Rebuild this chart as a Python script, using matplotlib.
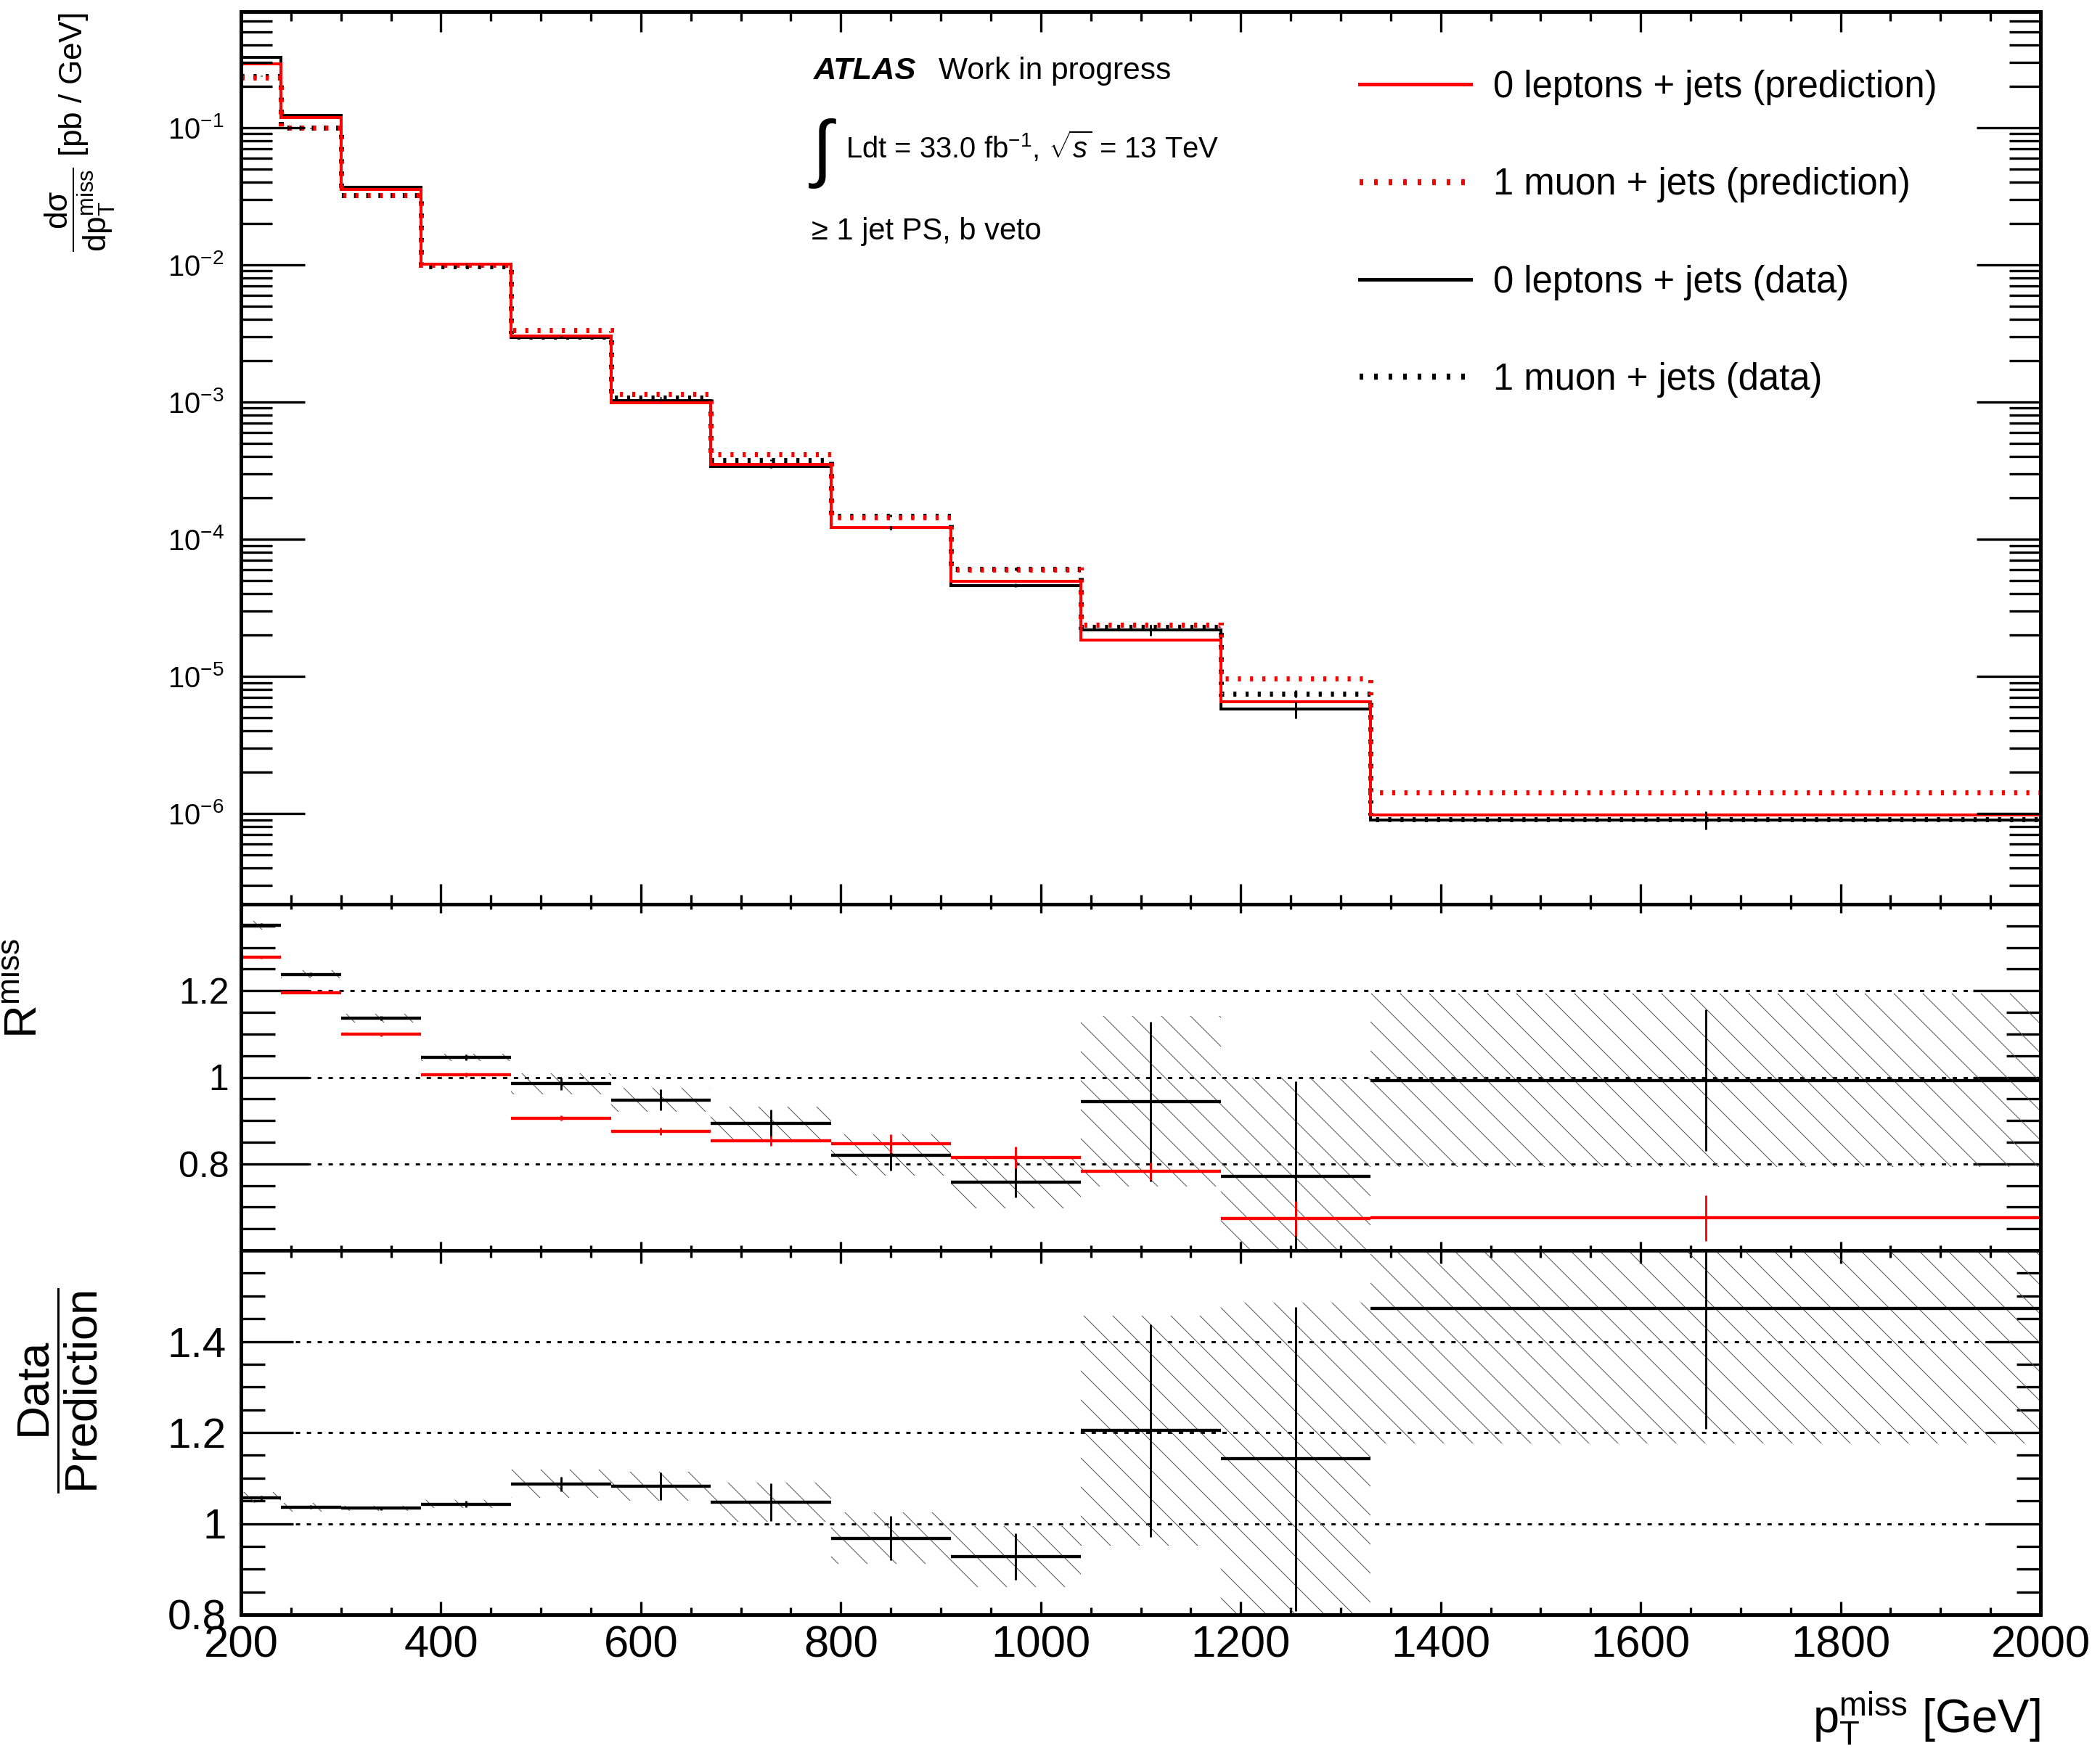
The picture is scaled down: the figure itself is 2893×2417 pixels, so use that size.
import matplotlib
matplotlib.use('Agg')
import matplotlib.pyplot as plt
import numpy as np
from matplotlib.lines import Line2D
from matplotlib.ticker import MultipleLocator, FixedLocator, FuncFormatter, LogLocator, NullFormatter

plt.rcParams['font.family'] = ['Liberation Sans', 'DejaVu Sans']
plt.rcParams['mathtext.fontset'] = 'custom'
plt.rcParams['mathtext.rm'] = 'Liberation Sans'
plt.rcParams['mathtext.it'] = 'Liberation Sans:italic'
plt.rcParams['mathtext.bf'] = 'Liberation Sans:bold'
plt.rcParams['mathtext.sf'] = 'Liberation Sans'
plt.rcParams['hatch.linewidth'] = 0.6
plt.rcParams['hatch.color'] = '#505050'

# бины по p_T^miss [GeV]
edges = [200, 240, 300, 380, 470, 570, 670, 790, 910, 1040, 1180, 1330, 2000]

# дифференциальные сечения [pb / GeV]
pred_0lep = [0.292, 0.1186, 0.0352, 0.0101, 0.00304, 0.000985, 0.000352, 0.000122, 4.90e-5, 1.83e-5, 6.50e-6, 9.8e-7]
pred_1mu = [0.230, 0.0992, 0.0321, 0.0100, 0.00335, 0.00114, 0.000413, 0.000144, 6.0e-5, 2.38e-5, 9.64e-6, 1.43e-6]
data_0lep = [0.323, 0.1228, 0.0367, 0.01014, 0.00296, 0.00102, 0.000338, 0.000121, 4.59e-5, 2.17e-5, 5.75e-6, 9.0e-7]
data_1mu = [0.238, 0.0992, 0.0321, 0.0097, 0.00300, 0.00107, 0.000377, 0.000148, 6.05e-5, 2.29e-5, 7.50e-6, 9.1e-7]
data_0lep_relerr = [0.005, 0.005, 0.005, 0.007, 0.01, 0.015, 0.02, 0.03, 0.03, 0.09, 0.14, 0.15]
data_1mu_relerr = [0.003, 0.003, 0.004, 0.005, 0.007, 0.01, 0.015, 0.02, 0.02, 0.04, 0.06, 0.05]

# R^miss
rmiss_data = [1.352, 1.238, 1.136, 1.046, 0.985, 0.948, 0.894, 0.820, 0.757, 0.944, 0.771, 0.993]
rmiss_data_err = [0.004, 0.004, 0.005, 0.006, 0.014, 0.024, 0.032, 0.035, 0.035, 0.185, 0.22, 0.163]
rmiss_data_syst = [0.01, 0.009, 0.01, 0.009, 0.024, 0.027, 0.038, 0.048, 0.06, 0.197, 0.228, 0.2]
rmiss_pred = [1.278, 1.196, 1.099, 1.006, 0.906, 0.875, 0.853, 0.847, 0.815, 0.783, 0.674, 0.675]
rmiss_pred_err = [0.003, 0.003, 0.004, 0.005, 0.006, 0.008, 0.012, 0.022, 0.025, 0.02, 0.04, 0.053]

# Data / Prediction
ratio = [1.057, 1.036, 1.0335, 1.043, 1.0875, 1.082, 1.047, 0.968, 0.928, 1.204, 1.142, 1.473]
ratio_err = [0.005, 0.004, 0.004, 0.0065, 0.016, 0.03, 0.041, 0.048, 0.051, 0.234, 0.334, 0.265]
ratio_syst = [0.012, 0.009, 0.006, 0.008, 0.031, 0.032, 0.043, 0.056, 0.067, 0.252, 0.344, 0.297]

rmiss_grid = [0.8, 1.0, 1.2]
ratio_grid = [1.0, 1.2, 1.4]

edges = np.array(edges, dtype=float)
centers = 0.5 * (edges[1:] + edges[:-1])
widths = np.diff(edges)
halfw = 0.5 * widths

W, H = 2893, 2417
fig = plt.figure(figsize=(W / 120, H / 120), dpi=120)


def box(top, bottom):
    return [332 / W, 1 - bottom / H, (2811 - 332) / W, (bottom - top) / H]


def px(x, y):
    return x / W, 1 - y / H


ax1 = fig.add_axes(box(16, 1246))
ax2 = fig.add_axes(box(1246, 1723))
ax3 = fig.add_axes(box(1723, 2225))


def style(ax, xlen, ylen):
    for s in ax.spines.values():
        s.set_linewidth(3)
        s.set_zorder(10)
    ax.tick_params(which='both', direction='in', top=True, right=True, width=2)
    ax.tick_params(axis='x', which='major', length=xlen[0])
    ax.tick_params(axis='x', which='minor', length=xlen[1])
    ax.tick_params(axis='y', which='major', length=ylen[0])
    ax.tick_params(axis='y', which='minor', length=ylen[1])
    ax.set_xlim(200, 2000)
    ax.xaxis.set_major_locator(MultipleLocator(200))
    ax.xaxis.set_minor_locator(MultipleLocator(50))


dotted = (0, (0.6, 1.8))

# верхняя панель
style(ax1, (17, 8), (53, 26))
ax1.set_yscale('log')
ax1.set_ylim(2.18e-7, 0.7)
ax1.yaxis.set_major_locator(LogLocator(base=10))
ax1.yaxis.set_minor_locator(LogLocator(base=10, subs=np.arange(2, 10)))
ax1.yaxis.set_minor_formatter(NullFormatter())
ax1.tick_params(labelbottom=False)
ax1.tick_params(axis='y', which='major', labelsize=24, pad=14)

ax1.stairs(data_1mu, edges, baseline=None, color='k', lw=4.2, ls=dotted)
ax1.stairs(data_0lep, edges, baseline=None, color='k', lw=2.4)
ax1.errorbar(centers, data_0lep, yerr=np.array(data_0lep) * np.array(data_0lep_relerr),
             fmt='none', ecolor='k', elinewidth=1.8, capsize=0)
ax1.errorbar(centers, data_1mu, yerr=np.array(data_1mu) * np.array(data_1mu_relerr),
             fmt='none', ecolor='k', elinewidth=1.8, capsize=0)
ax1.stairs(pred_0lep, edges, baseline=None, color='r', lw=2.4)
ax1.stairs(pred_1mu, edges, baseline=None, color='r', lw=4.2, ls=dotted)

handles = [Line2D([], [], color='r', lw=3),
           Line2D([], [], color='r', lw=5, ls=dotted),
           Line2D([], [], color='k', lw=3),
           Line2D([], [], color='k', lw=5, ls=dotted)]
labels = ['0 leptons + jets (prediction)', '1 muon + jets (prediction)',
          '0 leptons + jets (data)', '1 muon + jets (data)']
fig.legend(handles, labels, loc='upper left', bbox_to_anchor=px(1873, 96),
           bbox_transform=fig.transFigure, frameon=False, fontsize=30.5,
           handlelength=3.0, handletextpad=0.61, labelspacing=1.68,
           borderpad=0, borderaxespad=0)

fig.text(*px(1121, 109), 'ATLAS', fontsize=26, fontweight='bold', fontstyle='italic', va='baseline')
fig.text(*px(1293, 109), 'Work in progress', fontsize=25.5, va='baseline')
fig.text(*px(1133, 212), '\u222b', fontsize=61, ha='center', va='center')
fig.text(*px(1165, 218), r'Ldt = 33.0 fb$^{-1}$, $\sqrt{s}$ = 13 TeV', fontsize=24, va='baseline')
fig.text(*px(1118, 330), '\u2265 1 jet PS, b veto', fontsize=25, va='baseline')

fig.text(*px(110, 18), r'$\dfrac{\mathrm{d\sigma}}{\mathrm{dp}_{\mathrm{T}}^{\mathrm{miss}}}$ [pb / GeV]',
         fontsize=26.5, rotation=90, ha='center', va='top')

fmt_g = FuncFormatter(lambda v, p: f'{v:g}')

# R^miss
style(ax2, (7, 4), (56, 28))
ax2.set_ylim(0.6, 1.4)
ax2.yaxis.set_major_locator(FixedLocator(rmiss_grid))
ax2.yaxis.set_minor_locator(MultipleLocator(0.05))
ax2.yaxis.set_major_formatter(fmt_g)
ax2.tick_params(labelbottom=False)
ax2.tick_params(axis='y', which='major', labelsize=30, pad=10)
for g in rmiss_grid:
    ax2.axhline(g, color='k', lw=1.7, ls=(0, (2.1, 3.2)), zorder=1)
ax2.bar(centers, 2 * np.array(rmiss_data_syst), bottom=np.array(rmiss_data) - np.array(rmiss_data_syst),
        width=widths, fill=False, hatch='\\', edgecolor='#505050', lw=0, zorder=2)
ax2.errorbar(centers, rmiss_data, xerr=halfw, fmt='none', ecolor='k', elinewidth=2.6, capsize=0, zorder=3)
ax2.errorbar(centers, rmiss_data, yerr=rmiss_data_err, fmt='none', ecolor='k', elinewidth=1.7, capsize=0, zorder=3)
ax2.errorbar(centers, rmiss_pred, xerr=halfw, fmt='none', ecolor='r', elinewidth=2.6, capsize=0, zorder=4)
ax2.errorbar(centers, rmiss_pred, yerr=rmiss_pred_err, fmt='none', ecolor='r', elinewidth=1.7, capsize=0, zorder=4)
fig.text(*px(34, 1362), r'R$^{\mathrm{miss}}$', fontsize=38, rotation=90, ha='center', va='center')

# Data / Prediction
style(ax3, (11, 6), (43, 20))
ax3.set_ylim(0.8, 1.6)
ax3.yaxis.set_major_locator(FixedLocator([0.8] + ratio_grid))
ax3.yaxis.set_minor_locator(MultipleLocator(0.05))
ax3.yaxis.set_major_formatter(fmt_g)
ax3.tick_params(axis='y', which='major', labelsize=35, pad=12)
ax3.tick_params(axis='x', which='major', labelsize=37, pad=9)
for g in ratio_grid:
    ax3.axhline(g, color='k', lw=1.7, ls=(0, (2.1, 3.2)), zorder=1)
ax3.bar(centers, 2 * np.array(ratio_syst), bottom=np.array(ratio) - np.array(ratio_syst),
        width=widths, fill=False, hatch='\\', edgecolor='#505050', lw=0, zorder=2)
ax3.errorbar(centers, ratio, xerr=halfw, fmt='none', ecolor='k', elinewidth=2.6, capsize=0, zorder=3)
ax3.errorbar(centers, ratio, yerr=ratio_err, fmt='none', ecolor='k', elinewidth=1.7, capsize=0, zorder=3)
fig.text(*px(80, 1916), r'$\dfrac{\mathrm{Data}}{\mathrm{Prediction}}$', fontsize=38, rotation=90,
         ha='center', va='center')

fig.text(*px(2811, 2388), r'p$_{\mathrm{T}}^{\mathrm{miss}}$ [GeV]', fontsize=39, ha='right', va='baseline')

fig.savefig('out.png', dpi=120, facecolor='white')
